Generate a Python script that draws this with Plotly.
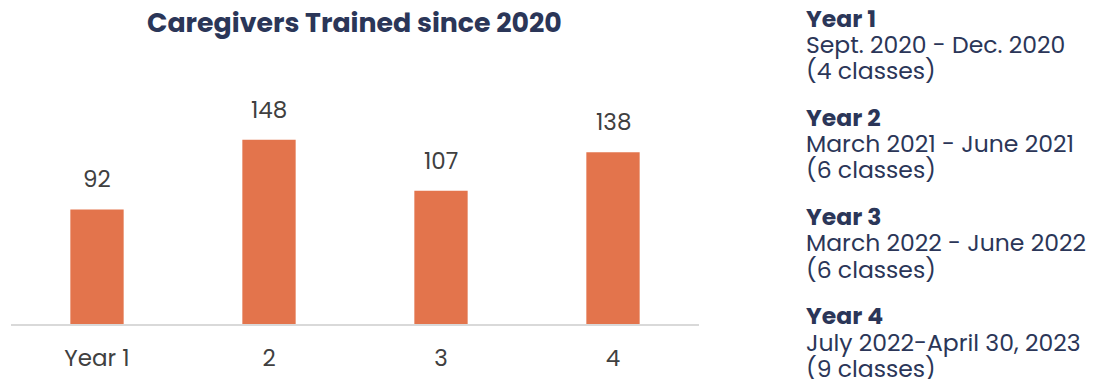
import plotly.graph_objects as go

categories = ["Year 1", "2", "3", "4"]
trained = [92, 148, 107, 138]
title_text = "Caregivers Trained since 2020"
period_names = ["Year 1", "Year 2", "Year 3", "Year 4"]
period_dates = ["Sept. 2020 - Dec. 2020", "March 2021 - June 2021",
                "March 2022 - June 2022", "July 2022-April 30, 2023"]
period_classes = ["(4 classes)", "(6 classes)", "(6 classes)", "(9 classes)"]

W, H = 1094, 379
BAR = "#E3744C"
NAVY = "#2B3658"
FONT = "Poppins, Inter, 'Open Sans', sans-serif"

fig = go.Figure()
fig.add_trace(go.Bar(x=categories, y=trained, marker=dict(color=BAR, line=dict(width=0)),
                     width=0.31, hoverinfo="skip"))

for i, v in enumerate(trained):
    fig.add_annotation(x=i, y=v, text=str(v), showarrow=False, yanchor="bottom",
                       yshift=12, font=dict(family=FONT, size=23, color="#404040"))

fig.add_annotation(xref="paper", yref="paper", x=354 / W, y=1 - 23 / H, text=f"<b>{title_text}</b>",
                   showarrow=False, xanchor="center", yanchor="middle",
                   font=dict(family=FONT, size=26.8, color=NAVY))

x0 = 805 / W
for i, (n, d, c) in enumerate(zip(period_names, period_dates, period_classes)):
    base = 18 + i * 99.3
    for j, t in enumerate([f"<b>{n}</b>", d, c]):
        fig.add_annotation(xref="paper", yref="paper", x=x0, y=1 - (base + j * 26.3) / H,
                           text=t, showarrow=False, xanchor="left", yanchor="middle",
                           borderpad=0,
                           font=dict(family=FONT, size=23.5, color=NAVY))

fig.update_layout(
    width=W, height=H, margin=dict(l=0, r=0, t=0, b=0),
    paper_bgcolor="white", plot_bgcolor="white", showlegend=False,
    xaxis=dict(type="category", domain=[11 / W, 699 / W], range=[-0.5, 3.5],
               showline=True, linecolor="#D9D9D9", linewidth=2,
               ticks="", showgrid=False, tickfont=dict(family=FONT, size=23, color="#404040"),
               ticklabelstandoff=12),
    yaxis=dict(domain=[(H - 324) / H, (H - 80) / H], range=[0, 196], visible=False,
               showgrid=False, zeroline=False),
)
fig.write_html("out.html")
